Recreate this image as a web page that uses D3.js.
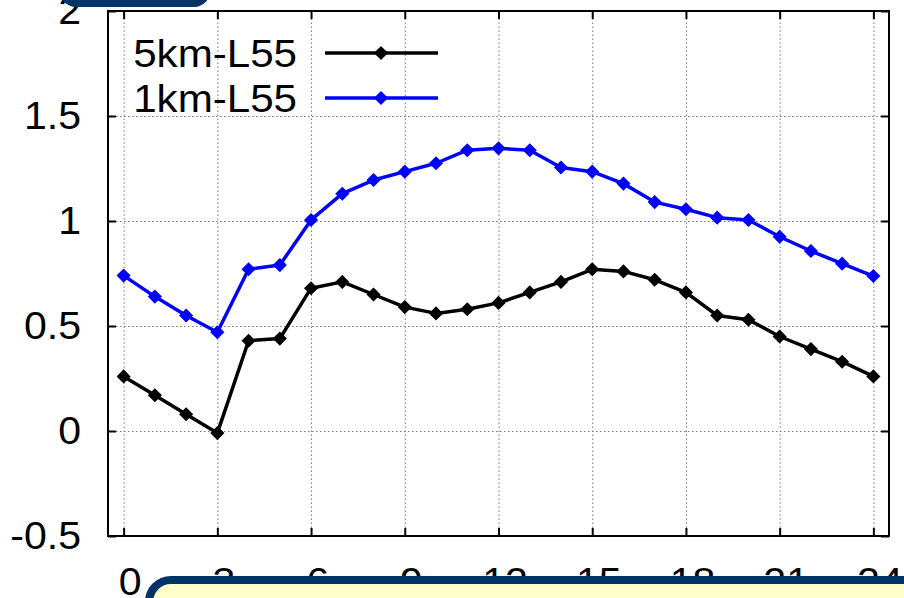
<!DOCTYPE html>
<html>
<head>
<meta charset="utf-8">
<script src="https://cdn.jsdelivr.net/npm/d3@7"></script>
<style>
  html, body { margin: 0; padding: 0; background: #fff; }
  svg { display: block; }
  text { font-family: "Liberation Sans", Arial, Helvetica, sans-serif; fill: #000; }
</style>
</head>
<body>
<svg id="chart" width="904" height="598"></svg>
<script>
// ---- data ----
const hours = [0,1,2,3,4,5,6,7,8,9,10,11,12,13,14,15,16,17,18,19,20,21,22,23,24];
const series5km = [0.26,0.17,0.08,-0.01,0.43,0.44,0.68,0.71,0.65,0.59,0.56,0.58,0.61,0.66,0.71,0.77,0.76,0.72,0.66,0.55,0.53,0.45,0.39,0.33,0.26];
const series1km = [0.74,0.64,0.55,0.47,0.77,0.79,1.005,1.13,1.195,1.235,1.275,1.337,1.346,1.337,1.255,1.235,1.178,1.09,1.056,1.016,1.005,0.925,0.857,0.797,0.738];
const seriesNames = ["5km-L55", "1km-L55"];
const seriesColors = ["#000000", "#0000ff"];
const xTicks = [0,3,6,9,12,15,18,21,24];
const yTicks = [-0.5,0,0.5,1,1.5,2];

// ---- layout ----
const svg = d3.select("#chart");
const L = 108, R = 889, T = 11, B = 536;
const W = R - L, H = B - T;
const FS = 38, SX = 1.08;
const fmt = d => String(d);

const x = d3.scaleLinear().domain([-0.5, 24.5]).range([L, R]);
const y = d3.scaleLinear().domain([-0.5, 2]).range([B, T]);

// grid
const gx = svg.append("g").attr("transform", `translate(0,${B})`)
  .call(d3.axisBottom(x).tickValues(xTicks).tickSize(-H).tickFormat(""));
gx.select(".domain").remove();
gx.selectAll("line").attr("stroke", "#777").attr("stroke-width", 1).attr("stroke-dasharray", "1.5,2.5");

const gy = svg.append("g").attr("transform", `translate(${L},0)`)
  .call(d3.axisLeft(y).tickValues(yTicks.filter(v => v > -0.5 && v < 2)).tickSize(-W).tickFormat(""));
gy.select(".domain").remove();
gy.selectAll("line").attr("stroke", "#777").attr("stroke-width", 1).attr("stroke-dasharray", "1.5,2.5");

// axes with inward ticks
function styleAxis(g) {
  g.select(".domain").remove();
  g.selectAll("line").attr("stroke", "#000").attr("stroke-width", 2);
  g.selectAll("text").style("font-size", FS + "px").attr("fill", "#000");
}

const axL = svg.append("g").attr("transform", `translate(${L},0)`)
  .call(d3.axisLeft(y).tickValues(yTicks).tickSize(-8).tickPadding(27).tickFormat(fmt));
styleAxis(axL);
axL.selectAll("text").attr("x", -27 / SX).attr("transform", `scale(${SX},1)`);

const axB = svg.append("g").attr("transform", `translate(0,${B})`)
  .call(d3.axisBottom(x).tickValues(xTicks).tickSize(-8).tickPadding(32).tickFormat(fmt));
styleAxis(axB);
axB.selectAll("text").attr("x", 6 / SX).attr("transform", `scale(${SX},1)`);

const axT = svg.append("g").attr("transform", `translate(0,${T})`)
  .call(d3.axisTop(x).tickValues(xTicks).tickSize(-8).tickFormat(""));
styleAxis(axT);

const axR = svg.append("g").attr("transform", `translate(${R},0)`)
  .call(d3.axisRight(y).tickValues(yTicks).tickSize(-8).tickFormat(""));
styleAxis(axR);

// frame
svg.append("rect").attr("x", L).attr("y", T).attr("width", W).attr("height", H)
  .attr("fill", "none").attr("stroke", "#000").attr("stroke-width", 2);

// series
const allSeries = [series5km, series1km];
const line = d3.line().x((d, i) => x(hours[i])).y(d => y(d));
const diamond = d3.symbol().type(d3.symbolSquare).size(100);

allSeries.forEach((vals, si) => {
  svg.append("path").datum(vals).attr("d", line)
    .attr("fill", "none").attr("stroke", seriesColors[si]).attr("stroke-width", 3.5)
    .attr("stroke-linejoin", "round");
  svg.append("g").selectAll("path").data(vals).join("path")
    .attr("d", diamond)
    .attr("transform", (d, i) => `translate(${x(hours[i])},${y(d)}) rotate(45)`)
    .attr("fill", seriesColors[si]);
});

// legend
const legY = [53, 98];
seriesNames.forEach((name, si) => {
  const g = svg.append("g");
  g.append("text").attr("x", 297 / SX).attr("y", legY[si]).attr("dy", "0.36em")
    .attr("text-anchor", "end").attr("transform", `scale(${SX},1)`)
    .style("font-size", "39px").text(name);
  g.append("line").attr("x1", 325).attr("x2", 438).attr("y1", legY[si]).attr("y2", legY[si])
    .attr("stroke", seriesColors[si]).attr("stroke-width", 3.5);
  g.append("path").attr("d", diamond).attr("transform", `translate(381,${legY[si]}) rotate(45)`)
    .attr("fill", seriesColors[si]);
});

// overlay boxes
svg.append("rect").attr("x", 60).attr("y", -30).attr("width", 150).attr("height", 37)
  .attr("rx", 16).attr("fill", "#003366");
svg.append("rect").attr("x", 149).attr("y", 580).attr("width", 800).attr("height", 100)
  .attr("rx", 22).attr("fill", "#ffffcc").attr("stroke", "#003366").attr("stroke-width", 8);
</script>
</body>
</html>
